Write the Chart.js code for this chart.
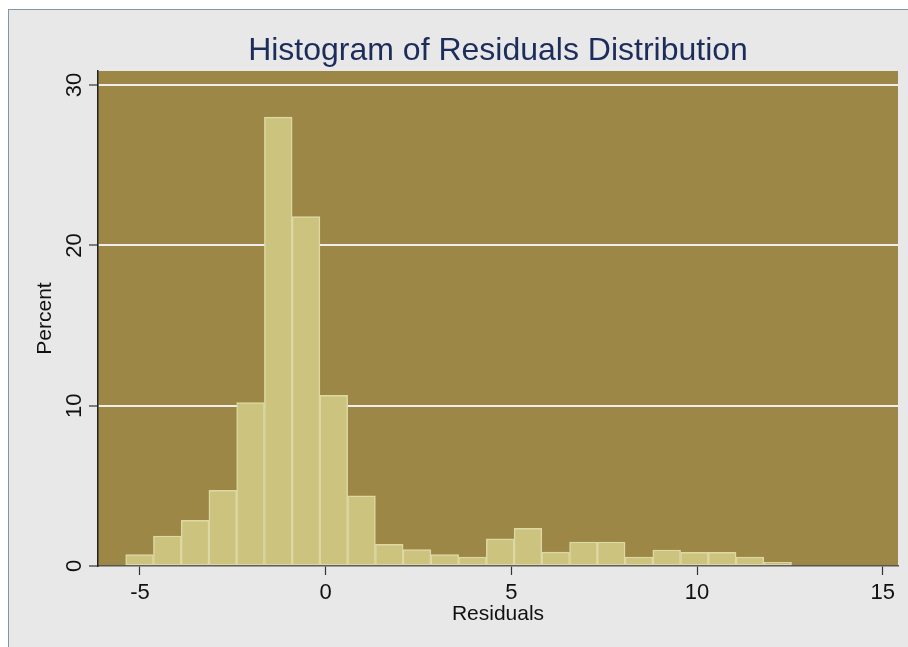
<!DOCTYPE html>
<html>
<head>
<meta charset="utf-8">
<script src="https://cdn.jsdelivr.net/npm/chart.js@4"></script>
<style>
    html, body { margin: 0; padding: 0; background: #fff; }
    #wrap { position: relative; width: 908px; height: 647px; overflow: hidden; }
    #frame { position: absolute; left: 8px; top: 9px; right: 0; bottom: 0; background: #e8e8e8; border-left: 1px solid #7f97a9; border-top: 1px solid #7f97a9; }
    #cv { position: absolute; left: 0; top: 0; }
</style>
</head>
<body>
<div id="wrap">
    <div id="frame"></div>
    <canvas id="cv" width="908" height="647"></canvas>
</div>
<script>
// bin centres of the histogram (Residuals) and the percent in each bin
const binCenters = [-5.011, -4.264, -3.517, -2.770, -2.023, -1.276, -0.529, 0.218, 0.965, 1.712, 2.459, 3.206,
                    3.953, 4.700, 5.447, 6.194, 6.941, 7.688, 8.435, 9.182, 9.929, 10.676, 11.423, 12.170];
const percents = [0.72, 1.87, 2.85, 4.72, 10.19, 28.0, 21.8, 10.65, 4.37, 1.35, 1.02, 0.71,
                  0.56, 1.70, 2.35, 0.87, 1.50, 1.50, 0.56, 1.00, 0.85, 0.85, 0.56, 0.23];
const xTicks = [-5, 0, 5, 10, 15];
const yTicks = [0, 10, 20, 30];

const FONT = '"Liberation Sans", Arial, Helvetica, sans-serif';

// olive plot background
const plotBg = {
    id: 'plotBg',
    beforeDraw(chart) {
        const { ctx, chartArea: a } = chart;
        ctx.save();
        ctx.fillStyle = '#9c8747';
        ctx.fillRect(a.left, a.top, a.right - a.left, a.bottom - a.top);
        ctx.restore();
    }
};

// y tick labels are rotated like Stata does it
const yLabels = {
    id: 'yLabels',
    afterDraw(chart) {
        const { ctx } = chart;
        const sc = chart.scales.y;
        ctx.save();
        ctx.fillStyle = '#111';
        ctx.font = '22px ' + FONT;
        ctx.textAlign = 'center';
        ctx.textBaseline = 'alphabetic';
        yTicks.forEach(v => {
            const y = sc.getPixelForValue(v);
            ctx.save();
            ctx.translate(81, y);
            ctx.rotate(-Math.PI / 2);
            ctx.fillText(String(v), 0, 0);
            ctx.restore();
        });
        ctx.restore();
    }
};

new Chart(document.getElementById('cv'), {
    type: 'bar',
    data: {
        datasets: [{
            data: binCenters.map((x, i) => ({ x, y: percents[i] })),
            backgroundColor: '#cbc37e',
            borderColor: '#ddd8a4',
            borderWidth: 1.5,
            borderSkipped: false,
            barPercentage: 1,
            categoryPercentage: 1
        }]
    },
    options: {
        responsive: false,
        animation: false,
        layout: { padding: { left: 0, right: 10, top: 0, bottom: 0 } },
        plugins: {
            legend: { display: false },
            tooltip: { enabled: false },
            title: {
                display: true,
                fullSize: false,
                text: 'Histogram of Residuals Distribution',
                color: '#1d2d5b',
                font: { family: FONT, size: 32, weight: 'normal' },
                padding: { top: 32, bottom: 0.6 }
            }
        },
        scales: {
            x: {
                type: 'linear',
                offset: false,
                min: -6.13,
                max: 15.41,
                afterFit(s) { s.height = 81; },
                afterBuildTicks(s) { s.ticks = xTicks.map(v => ({ value: v })); },
                ticks: { color: '#111', font: { family: FONT, size: 22 }, padding: 5, maxRotation: 0, includeBounds: false },
                grid: { offset: false, drawOnChartArea: false, tickLength: 9, tickColor: '#333', tickWidth: 1.2 },
                border: { display: true, color: '#555', width: 1.5 },
                title: {
                    display: true,
                    text: 'Residuals',
                    color: '#111',
                    font: { family: FONT, size: 21 },
                    padding: { top: 0, bottom: 20 }
                }
            },
            y: {
                min: 0,
                max: 30.88,
                afterFit(s) { s.width = 98; },
                afterBuildTicks(s) { s.ticks = yTicks.map(v => ({ value: v })); },
                ticks: { display: false, includeBounds: false },
                grid: {
                    color: c => (c.tick && c.tick.value === 0 ? 'rgba(0,0,0,0)' : '#eeeeee'),
                    lineWidth: 2,
                    tickLength: 9,
                    tickColor: '#333',
                    tickWidth: 1.2
                },
                border: { display: true, color: '#222', width: 1.5 },
                title: {
                    display: true,
                    text: 'Percent',
                    color: '#111',
                    font: { family: FONT, size: 21 },
                    padding: { top: 33, bottom: 0 }
                }
            }
        }
    },
    plugins: [plotBg, yLabels]
});
</script>
</body>
</html>
